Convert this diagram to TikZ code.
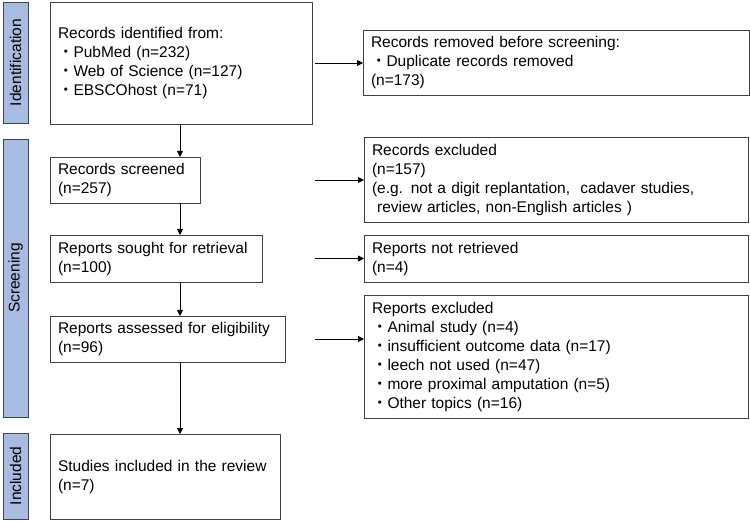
\documentclass[tikz,border=0pt]{standalone}
\usepackage{fontspec}
\setmainfont{Liberation Sans}
\newfontfamily\cjk{Noto Sans CJK JP}
\usetikzlibrary{arrows.meta}
\definecolor{barfill}{RGB}{168,188,226}
\definecolor{bardraw}{RGB}{60,70,88}
\definecolor{boxdraw}{RGB}{64,64,64}
\newcommand{\bul}{{\cjk ・}}
\begin{document}
\begin{tikzpicture}[x=1pt,y=-1pt,
  box/.style={draw=boxdraw, line width=0.9pt, rectangle, anchor=north west, inner xsep=8pt, inner ysep=0pt, outer sep=0pt, align=left, font=\fontsize{15.5}{19}\selectfont},
  bar/.style={draw=bardraw, fill=barfill, line width=0.9pt},
  barlabel/.style={rotate=90, font=\fontsize{15.5}{18}\selectfont},
  arr/.style={-{Triangle[length=6pt,width=6pt]}, line width=0.8pt, draw=black}]
\useasboundingbox (0,0) rectangle (750,521);
% side bars
\draw[bar] (3,2) rectangle (28,123);
\node[barlabel] (lid) at (15.5,62.5) {Identification};
\draw[bar] (3,139) rectangle (28,417);
\node[barlabel] (lsc) at (15.5,278) {Screening};
\draw[bar] (3,433) rectangle (28,519);
\node[barlabel] (lin) at (15.5,476) {Included};
% left boxes
\node[box, text width=246pt, minimum height=122pt] (b1) at (50,2) {Records identified from:\\\bul PubMed (n=232)\\\bul Web of Science (n=127)\\\bul EBSCOhost (n=71)};
\node[box, text width=134pt, minimum height=46pt] (b2) at (50,157) {Records screened\\(n=257)};
\node[box, text width=196pt, minimum height=47pt] (b3) at (50,235) {Reports sought for retrieval\\(n=100)};
\node[box, text width=219pt, minimum height=46pt] (b4) at (50,316) {Reports assessed for eligibility\\(n=96)};
\node[box, text width=214pt, minimum height=85pt] (b5) at (50,434) {Studies included in the review\\(n=7)};
% right boxes
\node[box, text width=370pt, minimum height=65pt] (r1) at (363,30) {Records removed before screening:\\\bul Duplicate records removed\\(n=173)};
\node[box, text width=368pt, minimum height=85pt] (r2) at (364,137) {Records excluded\\(n=157)\\(e.g. not a digit replantation,\ \ cadaver studies,\\\ review articles, non-English articles )};
\node[box, text width=368pt, minimum height=47pt] (r3) at (364,235) {Reports not retrieved\\(n=4)};
\node[box, text width=368pt, minimum height=123pt] (r4) at (364,295) {Reports excluded\\\bul Animal study (n=4)\\\bul insufficient outcome data (n=17)\\\bul leech not used (n=47)\\\bul more proximal amputation (n=5)\\\bul Other topics (n=16)};
% connectors
\coordinate (vx) at (180,0);
\coordinate (hx) at (315,0);
\draw[arr] (b1.south -| vx) -- (b2.north -| vx);
\draw[arr] (b2.south -| vx) -- (b3.north -| vx);
\draw[arr] (b3.south -| vx) -- (b4.north -| vx);
\draw[arr] (b4.south -| vx) -- (b5.north -| vx);
\draw[arr] (b1.east -| hx) -- (r1.west |- b1.east);
\draw[arr] (b2.east -| hx) -- (r2.west |- b2.east);
\draw[arr] (b3.east -| hx) -- (r3.west |- b3.east);
\draw[arr] (b4.east -| hx) -- (r4.west |- b4.east);
\end{tikzpicture}
\end{document}
